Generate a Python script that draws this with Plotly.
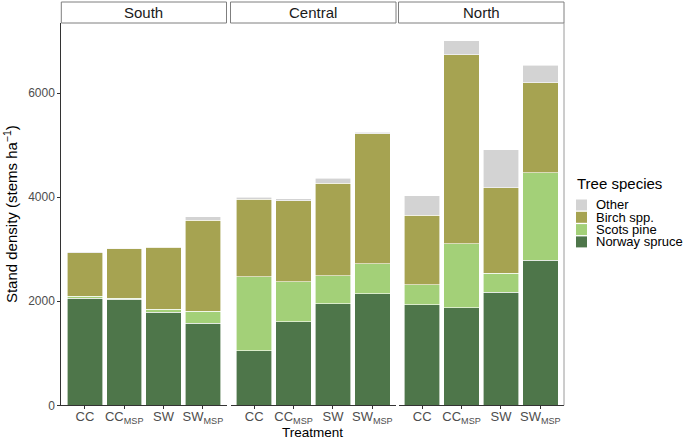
import plotly.graph_objects as go

regions = ["South", "Central", "North"]
treatments = ["CC", "CC<sub>MSP</sub>", "SW", "SW<sub>MSP</sub>"]
species = ["Norway spruce", "Scots pine", "Birch spp.", "Other"]
colors = {"Norway spruce": "#4E764A", "Scots pine": "#A3D078",
          "Birch spp.": "#A6A351", "Other": "#D3D3D3"}

# stand density (stems/ha) per species, per region, per treatment
norway_spruce = {"South": [2058, 2038, 1788, 1577],
                 "Central": [1050, 1603, 1955, 2147],
                 "North": [1929, 1872, 2173, 2788]}
scots_pine = {"South": [38, 20, 58, 236],
              "Central": [1417, 768, 539, 571],
              "North": [391, 1237, 365, 1686]}
birch_spp = {"South": [839, 948, 1192, 1745],
             "Central": [1495, 1565, 1776, 2506],
             "North": [1334, 3628, 1641, 1725]}
other = {"South": [19, 13, 13, 63],
         "Central": [38, 38, 95, 26],
         "North": [372, 276, 731, 339]}
values = {"Norway spruce": norway_spruce, "Scots pine": scots_pine,
          "Birch spp.": birch_spp, "Other": other}

y_ticks = [0, 2000, 4000, 6000]
y_max = 7350

W, H = 700, 440
px_x = lambda p: p / W
px_y = lambda p: 1 - p / H

panel_px = [(61.3, 226.5), (230.5, 396.0), (398.5, 564.0)]
top_px, bot_px = 23.0, 405.3

fig = go.Figure()
for i, reg in enumerate(regions):
    xa = "x" if i == 0 else f"x{i+1}"
    for sp in species:
        fig.add_trace(go.Bar(
            x=treatments, y=values[sp][reg], name=sp,
            marker=dict(color=colors[sp], line=dict(color="white", width=0.6)),
            width=0.9, xaxis=xa, yaxis="y", showlegend=False,
            hovertemplate=f"{reg} %{{x}}<br>{sp}: %{{y}}<extra></extra>"))

FONT = "Liberation Sans, Arial, sans-serif"
layout = dict(
    width=W, height=H, margin=dict(l=0, r=0, t=0, b=0),
    paper_bgcolor="white", plot_bgcolor="white", barmode="stack",
    font=dict(family=FONT, color="#000000"),
    showlegend=False,
)
axis_common = dict(
    type="category", range=[-0.6, 3.6], showgrid=False, zeroline=False,
    showline=True, linecolor="#333333", linewidth=1, automargin=False,
    ticks="outside", ticklen=3, tickcolor="#333333", tickwidth=1,
    tickfont=dict(size=13, color="#4D4D4D"), anchor="y",
    ticklabelstandoff=-4,
)
for i, (l, r) in enumerate(panel_px):
    key = "xaxis" if i == 0 else f"xaxis{i+1}"
    layout[key] = dict(axis_common, domain=[px_x(l), px_x(r)])
layout["yaxis"] = dict(
    domain=[px_y(bot_px), px_y(top_px)], range=[0, y_max], automargin=False,
    tickvals=y_ticks, ticktext=[str(v) for v in y_ticks],
    showgrid=False, zeroline=False, showline=True, linecolor="#333333", linewidth=1,
    ticks="outside", ticklen=3, tickcolor="#333333",
    tickfont=dict(size=12, color="#4D4D4D"), anchor="x",
    title=dict(text="Stand density (stems ha<sup>−1</sup>)", font=dict(size=15, color="#000000"), standoff=6),
)
fig.update_layout(**layout)

shapes = []
annotations = []
# x axis title
annotations.append(dict(text="Treatment", xref="paper", yref="paper",
                        x=(px_x(panel_px[0][0]) + px_x(panel_px[2][1])) / 2, y=px_y(432.3),
                        xanchor="center", yanchor="middle", showarrow=False,
                        font=dict(size=13.5, color="#000000")))
# facet strips
for i, reg in enumerate(regions):
    l, r = panel_px[i]
    shapes.append(dict(type="rect", xref="paper", yref="paper",
                       x0=px_x(l), x1=px_x(r), y0=px_y(top_px), y1=px_y(2),
                       line=dict(color="#7F7F7F", width=1), fillcolor="white"))
    annotations.append(dict(text=reg, xref="paper", yref="paper",
                            x=(px_x(l) + px_x(r)) / 2, y=px_y(12.5),
                            xanchor="center", yanchor="middle", showarrow=False,
                            font=dict(size=15, color="#1A1A1A")))
# right border of last panel
shapes.append(dict(type="line", xref="paper", yref="paper",
                   x0=px_x(564), x1=px_x(564), y0=px_y(bot_px), y1=px_y(top_px),
                   line=dict(color="#9A9A9A", width=1)))

# legend (drawn manually for tight ggplot-like spacing)
annotations.append(dict(text="Tree species", xref="paper", yref="paper",
                        x=px_x(575), y=px_y(183), xanchor="left", yanchor="middle",
                        showarrow=False, font=dict(size=15, color="#000000")))
leg_order = ["Other", "Birch spp.", "Scots pine", "Norway spruce"]
for k, sp in enumerate(leg_order):
    yc = 205 + k * 12.3
    shapes.append(dict(type="rect", xref="paper", yref="paper",
                       x0=px_x(576), x1=px_x(587), y0=px_y(yc + 5.5), y1=px_y(yc - 5.5),
                       line=dict(width=0), fillcolor=colors[sp]))
    annotations.append(dict(text=sp, xref="paper", yref="paper",
                            x=px_x(594), y=px_y(yc), xanchor="left", yanchor="middle",
                            showarrow=False, font=dict(size=13, color="#000000")))
fig.update_layout(shapes=shapes, annotations=annotations)

fig.write_html("out.html")
